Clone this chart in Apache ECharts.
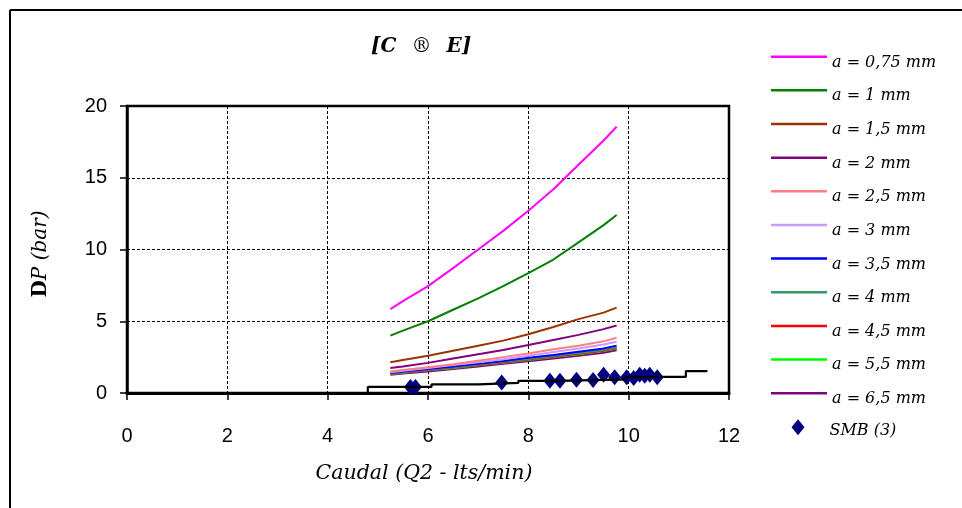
<!DOCTYPE html>
<html>
<head>
<meta charset="utf-8">
<script src="https://cdn.jsdelivr.net/npm/echarts@6/dist/echarts.min.js"></script>
<style>html,body{margin:0;padding:0;background:#fff}#c{width:962px;height:508px}</style>
</head>
<body>
<div id="c"></div>
<script>
// ---- data ----
const curveX = [5.25, 5.5, 6.0, 6.5, 7.0, 7.5, 8.0, 8.5, 9.0, 9.5, 9.76];
const seriesNames = ['a = 0,75 mm','a = 1 mm','a = 1,5 mm','a = 2 mm','a = 2,5 mm','a = 3 mm','a = 3,5 mm','a = 4 mm','a = 4,5 mm','a = 5,5 mm','a = 6,5 mm'];
const a075 = [5.85, 6.4, 7.45, 8.7, 10.0, 11.3, 12.7, 14.2, 15.9, 17.6, 18.55];
const a1   = [4.0, 4.35, 5.0, 5.8, 6.6, 7.45, 8.35, 9.3, 10.5, 11.7, 12.4];
const a15  = [2.15, 2.3, 2.6, 2.95, 3.3, 3.65, 4.1, 4.6, 5.15, 5.6, 5.95];
const a2   = [1.75, 1.85, 2.1, 2.4, 2.7, 3.0, 3.35, 3.7, 4.05, 4.45, 4.7];
const a25  = [1.5, 1.6, 1.8, 2.0, 2.25, 2.5, 2.75, 3.05, 3.3, 3.6, 3.85];
const a3   = [1.45, 1.55, 1.75, 1.95, 2.15, 2.35, 2.6, 2.85, 3.1, 3.38, 3.57];
const a35  = [1.4, 1.5, 1.67, 1.85, 2.03, 2.23, 2.45, 2.65, 2.88, 3.1, 3.3];
const a4   = [1.37, 1.45, 1.63, 1.8, 1.98, 2.17, 2.37, 2.57, 2.78, 3.0, 3.17];
const a45  = [1.35, 1.43, 1.6, 1.77, 1.95, 2.13, 2.33, 2.53, 2.73, 2.95, 3.12];
const a55  = [1.33, 1.41, 1.58, 1.75, 1.93, 2.11, 2.3, 2.5, 2.7, 2.92, 3.08];
const a65  = [1.27, 1.35, 1.5, 1.67, 1.85, 2.03, 2.22, 2.4, 2.6, 2.8, 2.98];
const curves = [a075, a1, a15, a2, a25, a3, a35, a4, a45, a55, a65];

const smbX = [5.65, 5.75, 7.47, 8.43, 8.63, 8.96, 9.29, 9.5, 9.72, 9.96, 10.1, 10.22, 10.32, 10.42, 10.57];
const smbY = [0.42, 0.42, 0.73, 0.85, 0.85, 0.92, 0.9, 1.27, 1.1, 1.1, 1.05, 1.27, 1.2, 1.27, 1.1];

const stepX = [4.68, 4.8, 6.07, 7.0, 7.8, 8.6, 9.96, 11.14, 11.57];
const stepY = [0, 0.42, 0.6, 0.7, 0.85, 0.95, 1.12, 1.52, 1.52];

const xTicks = {min: 0, max: 12, interval: 2};
const yTicks = {min: 0, max: 20, interval: 5};

const colors = ['#FF00FF','#008000','#993300','#800080','#FF8080','#CC99FF','#0000FF','#339966','#FF0000','#00FF00','#800080'];

// ---- chart ----
const chart = echarts.init(document.getElementById('c'), null, {renderer: 'canvas'});
const serif = 'DejaVu Serif';
const sans = 'Liberation Sans';

// legend icons: a line at the top of the box (text sits lower), tiny speck marks the box bottom
const lineIcon = 'path://M0,0L56,0L56,2.5L0,2.5Z M0,13.99L0.01,13.99L0,14Z';
const diamondIcon = 'path://M6.5,0L13,8L6.5,16L0,8Z M0,23.99L0.01,23.99L0,24Z';

const series = curves.map((vals, i) => ({
  name: seriesNames[i],
  type: 'line',
  data: curveX.map((x, j) => [x, vals[j]]),
  showSymbol: false,
  symbol: 'none',
  lineStyle: {color: colors[i], width: 2},
  itemStyle: {color: colors[i]},
  z: 3 + (10 - i) * 0.01,
  animation: false
}));
series.push({
  name: 'SMB (3)',
  type: 'scatter',
  data: smbX.map((x, j) => [x, smbY[j]]),
  symbol: 'diamond',
  symbolSize: [13, 16],
  itemStyle: {color: '#000080', opacity: 1},
  z: 4,
  animation: false
});
series.push({
  name: 'step',
  type: 'line',
  step: 'end',
  data: stepX.map((x, j) => [x, stepY[j]]),
  showSymbol: false,
  symbol: 'none',
  lineStyle: {color: '#000', width: 2.2},
  itemStyle: {color: '#000'},
  z: 5,
  animation: false
});

chart.setOption({
  animation: false,
  backgroundColor: '#fff',
  title: {
    text: '{b|[C}   {r|®}   {b|E]}',
    left: 366, top: 32,
    textStyle: {
      rich: {
        b: {fontFamily: serif, fontStyle: 'italic', fontWeight: 'bold', fontSize: 20, color: '#000'},
        r: {fontFamily: serif, fontStyle: 'normal', fontWeight: 'normal', fontSize: 20, color: '#000'}
      }
    }
  },
  grid: {left: 127, right: 233, top: 106, bottom: 115, show: true, borderColor: '#000', borderWidth: 2.5, backgroundColor: '#fff'},
  legend: [{
    data: seriesNames.map(n => ({name: n, icon: lineIcon})),
    orient: 'vertical',
    left: 771, top: 54.4,
    padding: 0,
    itemWidth: 56, itemHeight: 14,
    itemGap: 17.66,
    textStyle: {fontFamily: serif, fontStyle: 'italic', fontSize: 16, color: '#000', lineHeight: 14}
  }, {
    data: [{name: 'SMB (3)', icon: diamondIcon, itemStyle: {color: '#000080', opacity: 1}}],
    orient: 'vertical',
    left: 791.5, top: 419.3,
    padding: 0,
    itemWidth: 13, itemHeight: 24,
    textStyle: {fontFamily: serif, fontStyle: 'italic', fontSize: 16, color: '#000', padding: [0, 0, 0, 20], lineHeight: 14}
  }],
  xAxis: {
    type: 'value', min: xTicks.min, max: xTicks.max, interval: xTicks.interval,
    name: 'Caudal (Q2 - lts/min)', nameLocation: 'middle', nameGap: 71,
    nameTextStyle: {fontFamily: serif, fontStyle: 'italic', fontSize: 20.5, color: '#000', padding: [0, 8, 0, 0]},
    axisLine: {show: true, onZero: false, lineStyle: {color: '#000', width: 3}},
    axisTick: {show: true, length: 7, lineStyle: {color: '#000', width: 1.5}},
    axisLabel: {fontFamily: sans, fontSize: 20, color: '#000', margin: 33},
    splitLine: {show: true, lineStyle: {color: '#000', type: [3, 2], width: 1}}
  },
  yAxis: {
    type: 'value', min: yTicks.min, max: yTicks.max, interval: yTicks.interval,
    name: '{d|D}{p|P (bar)}', nameLocation: 'middle', nameGap: 76, nameRotate: 90,
    nameTextStyle: {
      padding: [0, 9, 0, 0],
      rich: {
        d: {fontFamily: serif, fontWeight: 'bold', fontSize: 20, color: '#000'},
        p: {fontFamily: serif, fontStyle: 'italic', fontSize: 20, color: '#000'}
      }
    },
    axisLine: {show: true, lineStyle: {color: '#000', width: 2.5}},
    axisTick: {show: true, length: 7, lineStyle: {color: '#000', width: 1.5}},
    axisLabel: {fontFamily: sans, fontSize: 20, color: '#000', margin: 20},
    splitLine: {show: true, lineStyle: {color: '#000', type: [3, 2], width: 1}}
  },
  graphic: [
    {type: 'line', shape: {x1: 10, y1: 10, x2: 962, y2: 10}, style: {stroke: '#000', lineWidth: 2}},
    {type: 'line', shape: {x1: 10, y1: 10, x2: 10, y2: 508}, style: {stroke: '#000', lineWidth: 2}}
  ],
  series: series
});
</script>
</body>
</html>
